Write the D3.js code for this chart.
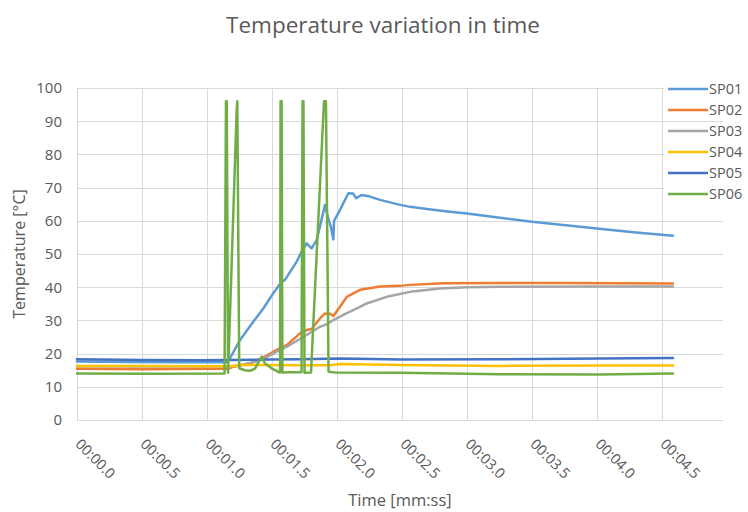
<!DOCTYPE html>
<html>
<head>
<meta charset="utf-8">
<script src="https://cdn.jsdelivr.net/npm/d3@7"></script>
<style>
  html, body { margin: 0; padding: 0; background: #fff; }
  svg { display: block; }
  text { font-family: "Open Sans", "Noto Sans", sans-serif; fill: #595959; }
</style>
</head>
<body>
<svg id="chart" width="748" height="512"></svg>
<script>
// ---------- DATA ----------
const seriesNames = ["SP01", "SP02", "SP03", "SP04", "SP05", "SP06"];
const seriesColors = ["#5B9BD5", "#ED7D31", "#A5A5A5", "#FFC000", "#4472C4", "#70AD47"];

const xTickValues = [0, 0.5, 1.0, 1.5, 2.0, 2.5, 3.0, 3.5, 4.0, 4.5];
const xTickLabels = ["00:00.0", "00:00.5", "00:01.0", "00:01.5", "00:02.0", "00:02.5", "00:03.0", "00:03.5", "00:04.0", "00:04.5"];
const yTickValues = [0, 10, 20, 30, 40, 50, 60, 70, 80, 90, 100];

// [time in seconds, temperature °C]
const sp01 = [[0,17.6],[0.4,17.5],[0.8,17.4],[1.15,17.4],[1.177,18.6],[1.254,24.1],[1.356,29.6],[1.433,33.6],[1.51,38.2],[1.575,41.7],[1.6,42.2],[1.69,47.7],[1.728,50.7],[1.767,53.2],[1.805,51.7],[1.844,54.2],[1.908,64.8],[1.931,61.0],[1.954,58.0],[1.972,54.4],[1.977,60.0],[2.023,63.3],[2.087,68.3],[2.125,68.2],[2.146,66.8],[2.19,67.8],[2.254,67.3],[2.331,66.3],[2.485,64.8],[2.562,64.2],[2.738,63.3],[2.869,62.7],[3.0,62.2],[3.254,60.9],[3.5,59.7],[4.0,57.7],[4.3,56.5],[4.585,55.5]];
const sp02 = [[0,15.4],[0.5,15.3],[1.0,15.4],[1.162,15.4],[1.2,16.0],[1.331,17.0],[1.423,18.6],[1.536,21.1],[1.615,22.6],[1.715,26.1],[1.767,27.1],[1.805,27.4],[1.869,30.6],[1.908,32.1],[1.946,32.0],[1.972,31.3],[2.023,34.1],[2.075,37.1],[2.177,39.2],[2.331,40.2],[2.485,40.4],[2.562,40.7],[2.815,41.2],[3.254,41.3],[3.715,41.3],[4.585,41.1]];
const sp03 = [[0,16.2],[0.5,16.1],[1.0,16.2],[1.215,16.2],[1.369,17.5],[1.431,18.3],[1.536,20.6],[1.615,22.1],[1.715,24.4],[1.869,28.1],[1.92,28.8],[1.972,30.1],[2.075,32.2],[2.177,34.1],[2.228,35.1],[2.382,37.1],[2.562,38.6],[2.792,39.6],[3.0,40.0],[3.254,40.1],[4.0,40.2],[4.585,40.2]];
const sp04 = [[0,16.3],[0.5,16.3],[1.0,16.2],[1.177,16.2],[1.254,16.6],[1.715,16.5],[1.946,16.5],[2.023,16.9],[2.485,16.6],[3.254,16.3],[4.023,16.4],[4.585,16.4]];
const sp05 = [[0,18.3],[0.5,18.1],[0.946,18.0],[1.5,18.2],[1.715,18.3],[2.023,18.5],[2.485,18.2],[3.254,18.3],[4.023,18.5],[4.585,18.7]];
const sp06 = [[0,14.0],[0.562,13.9],[1.135,14.0],[1.146,96.0],[1.152,96.0],[1.162,14.2],[1.228,93.0],[1.233,96.0],[1.248,15.6],[1.292,15.0],[1.331,14.8],[1.369,15.5],[1.421,19.1],[1.446,17.0],[1.5,15.5],[1.562,14.3],[1.566,96.0],[1.574,96.0],[1.58,14.3],[1.638,14.4],[1.727,14.4],[1.735,96.0],[1.742,96.0],[1.75,14.2],[1.8,14.3],[1.9,96.0],[1.915,96.0],[1.935,14.5],[1.985,14.3],[2.485,14.2],[3.254,13.8],[4.023,13.7],[4.585,14.0]];

const seriesData = [sp01, sp02, sp03, sp04, sp05, sp06];

// ---------- LAYOUT ----------
const plotLeft = 77, plotRight = 723, plotTop = 88, plotBottom = 420;
const svg = d3.select("#chart");

const x = d3.scaleLinear().domain([0, 4.5]).range([plotLeft, 662]);
const y = d3.scaleLinear().domain([0, 100]).range([plotBottom, plotTop]);

// Title
svg.append("text")
  .attr("x", 383).attr("y", 33)
  .attr("text-anchor", "middle")
  .style("font-size", "22.5px")
  .text("Temperature variation in time");

// Gridlines
const grid = svg.append("g").attr("stroke", "#d9d9d9").attr("stroke-width", 1).attr("shape-rendering", "crispEdges");
grid.selectAll(".h").data(yTickValues).enter().append("line")
  .attr("x1", plotLeft).attr("x2", plotRight)
  .attr("y1", d => Math.round(y(d)) + 0.5).attr("y2", d => Math.round(y(d)) + 0.5);
grid.selectAll(".v").data(xTickValues).enter().append("line")
  .attr("y1", plotTop).attr("y2", plotBottom)
  .attr("x1", d => Math.round(x(d)) + 0.5).attr("x2", d => Math.round(x(d)) + 0.5);

// Y axis labels
const yAxis = d3.axisLeft(y).tickValues(yTickValues).tickSize(0).tickPadding(0);
const gy = svg.append("g").attr("transform", `translate(${plotLeft - 15},0)`).call(yAxis);
gy.select(".domain").remove();
gy.selectAll("text").style("font-size", "15px").style("fill", "#595959").style("font-family", "'Open Sans', sans-serif");

// X axis labels (rotated)
const xAxis = d3.axisBottom(x).tickValues(xTickValues).tickFormat((d, i) => xTickLabels[i]).tickSize(0).tickPadding(0);
const gx = svg.append("g").attr("transform", `translate(0,${plotBottom})`).call(xAxis);
gx.select(".domain").remove();
gx.selectAll("text")
  .style("font-size", "14.5px").style("fill", "#595959").style("font-family", "'Open Sans', sans-serif")
  .attr("text-anchor", "start")
  .attr("dy", null)
  .attr("transform", "translate(-3,25) rotate(45)");

// Axis titles
svg.append("text")
  .attr("transform", `translate(25,${(plotTop + plotBottom) / 2}) rotate(-90)`)
  .attr("text-anchor", "middle")
  .style("font-size", "16px")
  .text("Temperature [°C]");
svg.append("text")
  .attr("x", 400).attr("y", 506)
  .attr("text-anchor", "middle")
  .style("font-size", "16.5px")
  .text("Time [mm:ss]");

// Lines
const line = d3.line().x(d => x(d[0])).y(d => y(d[1]));
svg.append("g").selectAll("path").data(seriesData).enter().append("path")
  .attr("d", d => line(d))
  .attr("fill", "none")
  .attr("stroke", (d, i) => seriesColors[i])
  .attr("stroke-width", 2.5)
  .attr("stroke-linejoin", "round")
  .attr("stroke-linecap", "round");

// Legend
const legend = svg.append("g");
const legendRowY = i => 89 + i * 21;
seriesNames.forEach((name, i) => {
  const gy0 = legendRowY(i);
  legend.append("rect").attr("x", 664).attr("y", gy0 - 8).attr("width", 84).attr("height", 16).attr("fill", "#fff");
  legend.append("line").attr("x1", 668).attr("x2", 708).attr("y1", gy0).attr("y2", gy0)
    .attr("stroke", seriesColors[i]).attr("stroke-width", 2.5);
  legend.append("text").attr("x", 709).attr("y", gy0).attr("dy", "0.35em")
    .style("font-size", "14.5px").text(name);
});
</script>
</body>
</html>
